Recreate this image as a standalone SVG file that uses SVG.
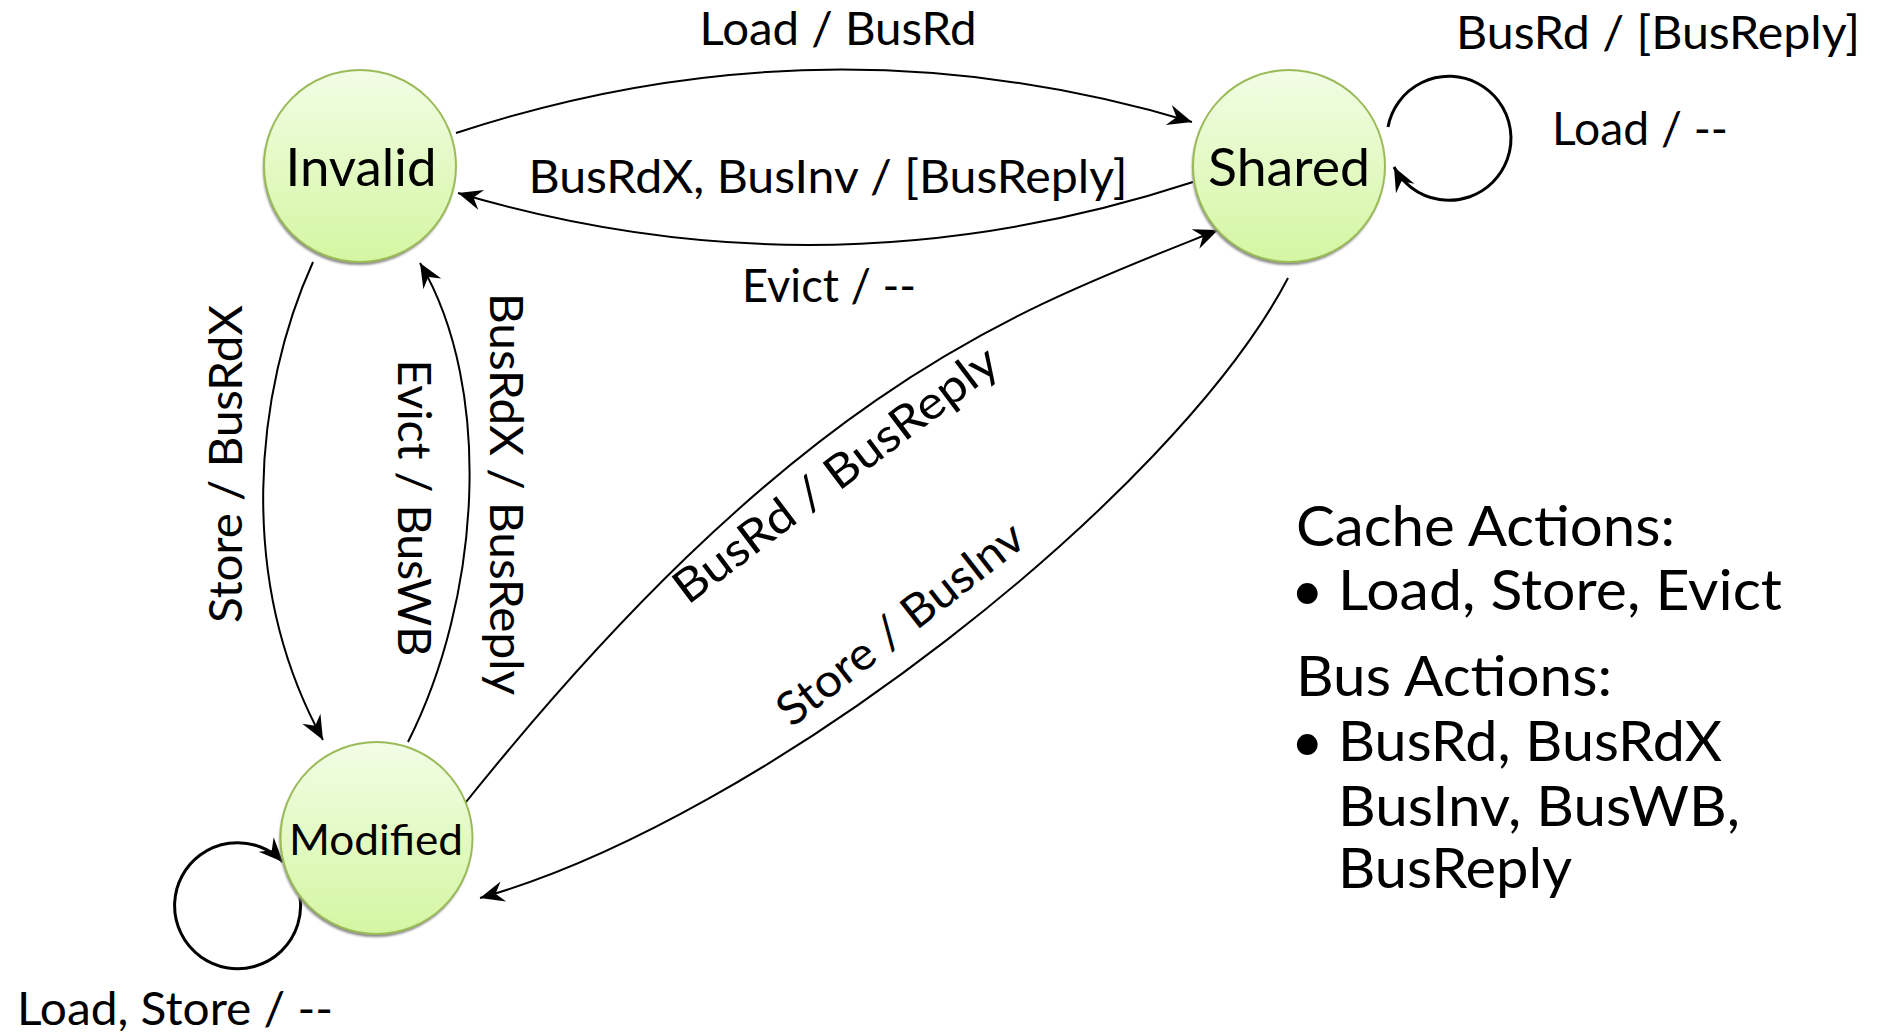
<svg xmlns="http://www.w3.org/2000/svg" width="1881" height="1034" viewBox="0 0 1881 1034">
<style>
  .t { font-family: Lato, "Liberation Sans", sans-serif; fill: #000; }
  .lbl { font-size: 46px; }
  .leg { font-size: 56px; }
  .node { stroke: #9bbb59; stroke-width: 2; fill: url(#g); }
  .shadow { fill: #8a8a8a; filter: url(#blur); }
  .edge { fill: none; stroke: #000; stroke-width: 2; marker-end: url(#arr); }
  .loop { fill: none; stroke: #000; stroke-width: 3; marker-end: url(#arr); }
</style>
<defs>
  <linearGradient id="g" x1="0" y1="0" x2="0" y2="1">
    <stop offset="0" stop-color="#f2fde6"/>
    <stop offset="1" stop-color="#d4f6a2"/>
  </linearGradient>
  <filter id="blur" x="-10%" y="-10%" width="120%" height="120%">
    <feGaussianBlur stdDeviation="1.2"/>
  </filter>
  <marker id="arr" markerUnits="userSpaceOnUse" markerWidth="30" markerHeight="30" viewBox="-24 -12 26 24" refX="0" refY="0" orient="auto">
    <path d="M0,0 L-21,-9 L-14,0 L-21,9 Z" fill="#000"/>
  </marker>
</defs>
<rect width="1881" height="1034" fill="#fff"/>

<g id="connectors">
  <path id="e-inv-sh" class="edge" d="M456,133 Q824,12 1192,122"/>
  <path id="e-sh-inv" class="edge" d="M1193,182 Q826,302 458,193"/>
  <path id="e-inv-mod" class="edge" d="M313,262 C255,390 235,580 323,740"/>
  <path id="e-mod-inv" class="edge" d="M408,742 C480,600 495,390 420,263"/>
  <path id="e-mod-sh" class="edge" d="M462,807 C802,382 1018,310 1218,230"/>
  <path id="e-sh-mod" class="edge" d="M1288,278 C1175,495 760,820 480,898"/>
  <path id="e-sh-sh" class="loop" d="M1388,127 A62,62 0 1 1 1394,167"/>
  <path id="e-mod-mod" class="loop" d="M300,897 A63,63 0 1 1 283,862"/>
</g>

<g id="node-invalid">
  <circle class="shadow" cx="359" cy="169" r="96"/>
  <circle class="node" cx="360" cy="166" r="96"/>
  <text class="t" x="361" y="186" font-size="53" text-anchor="middle" textLength="151" lengthAdjust="spacingAndGlyphs">Invalid</text>
</g>
<g id="node-shared">
  <circle class="shadow" cx="1288" cy="169" r="96"/>
  <circle class="node" cx="1289" cy="166" r="96"/>
  <text class="t" x="1289" y="186" font-size="53" text-anchor="middle" textLength="162" lengthAdjust="spacingAndGlyphs">Shared</text>
</g>
<g id="node-modified">
  <circle class="shadow" cx="375.5" cy="841" r="96"/>
  <circle class="node" cx="376.5" cy="838" r="96"/>
  <text class="t" x="376" y="855" font-size="42" text-anchor="middle" textLength="174" lengthAdjust="spacingAndGlyphs">Modified</text>
</g>

<g id="edge-labels">
  <text class="t lbl" x="838" y="45" text-anchor="middle" textLength="277" lengthAdjust="spacingAndGlyphs">Load / BusRd</text>
  <text class="t lbl" x="828" y="193" text-anchor="middle" textLength="599" lengthAdjust="spacingAndGlyphs">BusRdX, BusInv / [BusReply]</text>
  <text class="t lbl" x="829" y="302" text-anchor="middle" textLength="174" lengthAdjust="spacingAndGlyphs">Evict / --</text>
  <text class="t lbl" x="1658" y="49" text-anchor="middle" textLength="404" lengthAdjust="spacingAndGlyphs">BusRd / [BusReply]</text>
  <text class="t lbl" x="1640" y="145" text-anchor="middle" textLength="176" lengthAdjust="spacingAndGlyphs">Load / --</text>
  <text class="t lbl" x="175" y="1025" text-anchor="middle" textLength="316" lengthAdjust="spacingAndGlyphs">Load, Store / --</text>
  <text class="t lbl" transform="translate(242,464) rotate(-90)" text-anchor="middle" textLength="318" lengthAdjust="spacingAndGlyphs">Store / BusRdX</text>
  <text class="t lbl" transform="translate(398,508) rotate(90)" text-anchor="middle" textLength="297" lengthAdjust="spacingAndGlyphs">Evict / BusWB</text>
  <text class="t lbl" transform="translate(490,494) rotate(90)" text-anchor="middle" textLength="402" lengthAdjust="spacingAndGlyphs">BusRdX / BusReply</text>
  <text class="t lbl" transform="translate(845,487) rotate(-37)" text-anchor="middle" textLength="394" lengthAdjust="spacingAndGlyphs">BusRd / BusReply</text>
  <text class="t lbl" transform="translate(910,636) rotate(-38)" text-anchor="middle" textLength="300" lengthAdjust="spacingAndGlyphs">Store / BusInv</text>
</g>

<g id="legend">
  <text class="t leg" x="1296" y="546" textLength="379" lengthAdjust="spacingAndGlyphs">Cache Actions:</text>
  <text class="t leg" x="1291" y="610">•</text>
  <text class="t leg" x="1338" y="610" textLength="444" lengthAdjust="spacingAndGlyphs">Load, Store, Evict</text>
  <text class="t leg" x="1296" y="696" textLength="316" lengthAdjust="spacingAndGlyphs">Bus Actions:</text>
  <text class="t leg" x="1291" y="761">•</text>
  <text class="t leg" x="1338" y="761" textLength="384" lengthAdjust="spacingAndGlyphs">BusRd, BusRdX</text>
  <text class="t leg" x="1338" y="826" textLength="402" lengthAdjust="spacingAndGlyphs">BusInv, BusWB,</text>
  <text class="t leg" x="1338" y="888" textLength="234" lengthAdjust="spacingAndGlyphs">BusReply</text>
</g>
</svg>
